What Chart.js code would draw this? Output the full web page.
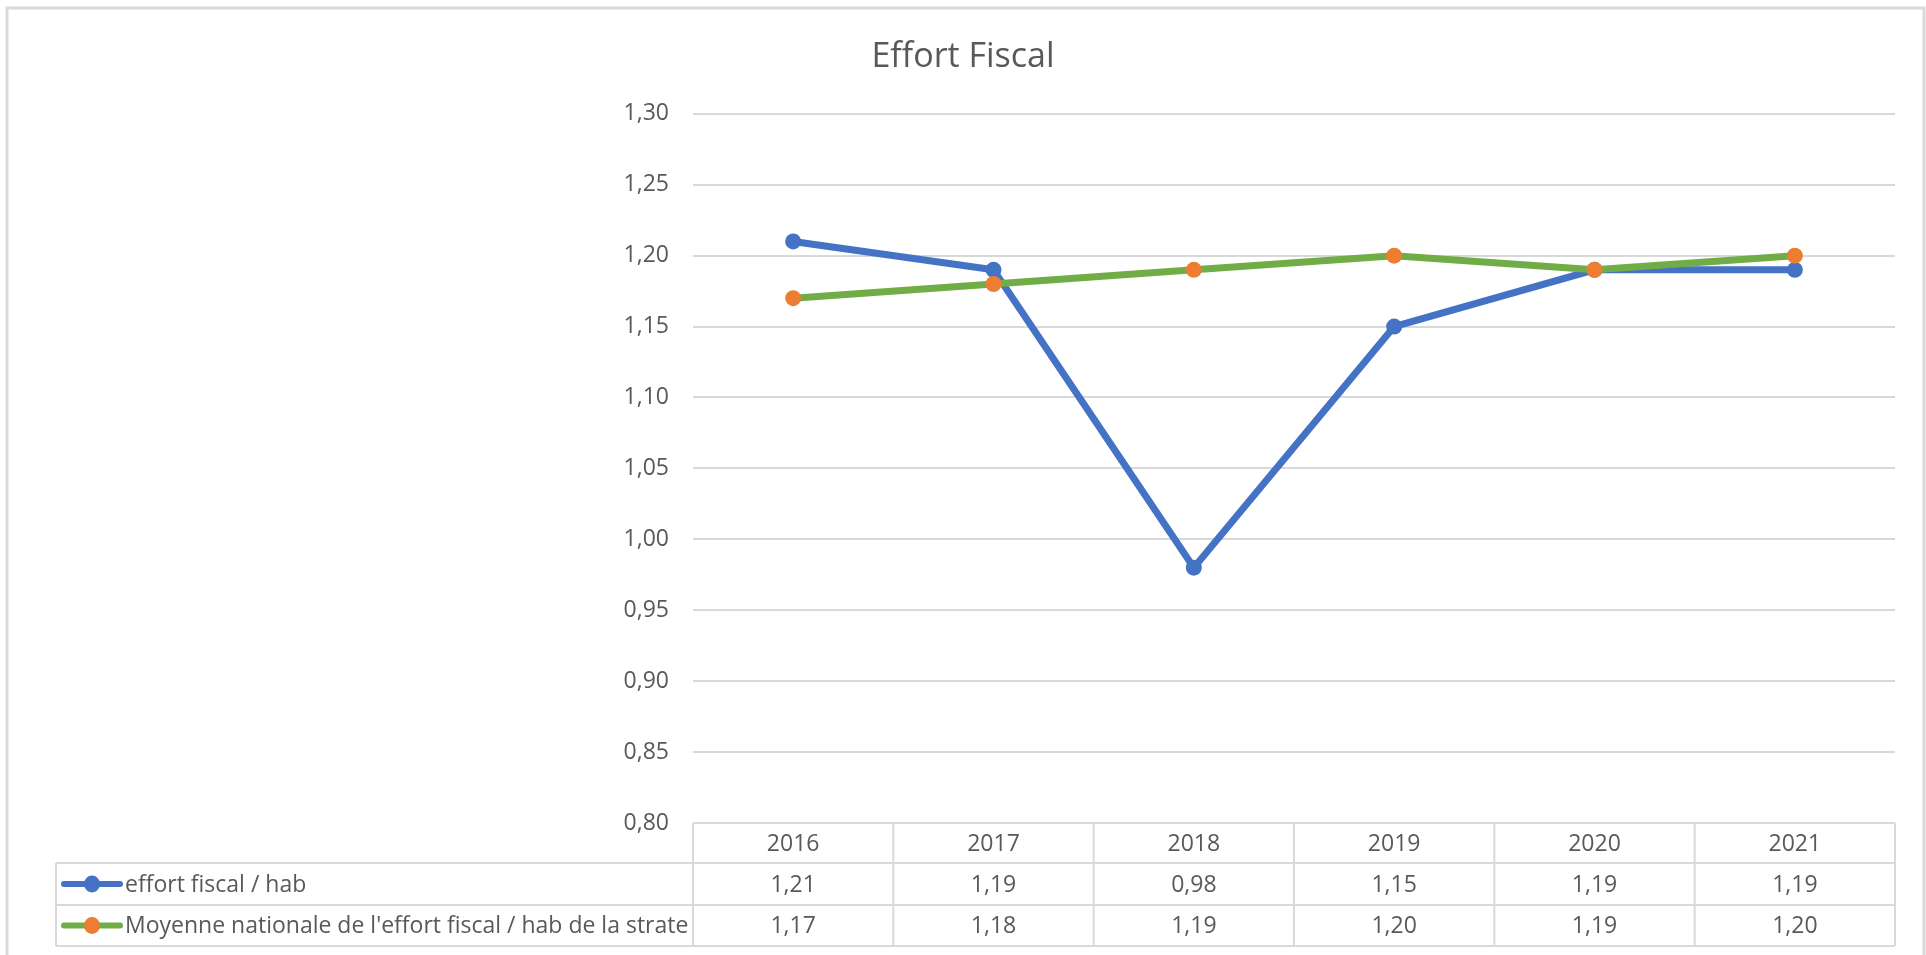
<!DOCTYPE html>
<html>
<head>
<meta charset="utf-8">
<script src="https://cdn.jsdelivr.net/npm/chart.js@4/dist/chart.umd.min.js"></script>
<style>
  html, body { margin: 0; padding: 0; background: #fff; }
  #wrap { width: 1926px; height: 955px; position: relative; }
</style>
</head>
<body>
<div id="wrap"><canvas id="chart"></canvas></div>
<script>
// Data
const years = ["2016", "2017", "2018", "2019", "2020", "2021"];
const effortFiscal = [1.21, 1.19, 0.98, 1.15, 1.19, 1.19];
const moyenneStrate = [1.17, 1.18, 1.19, 1.20, 1.19, 1.20];
const seriesNames = ["effort fiscal / hab", "Moyenne nationale de l'effort fiscal / hab de la strate"];

const FONT = "'Open Sans', sans-serif";
const TEXT = "#595959";
const GRID = "#D9D9D9";
const BLUE = "#4472C4";
const GREEN = "#70AD47";
const ORANGE = "#ED7D31";

const fmt = v => v.toFixed(2).replace(".", ",");

// Frame around the whole chart
const framePlugin = {
  id: "frame",
  beforeDraw(chart) {
    const ctx = chart.ctx;
    ctx.save();
    ctx.fillStyle = "#fff";
    ctx.fillRect(0, 0, chart.width, chart.height);
    ctx.strokeStyle = GRID;
    ctx.lineWidth = 3;
    ctx.beginPath();
    ctx.moveTo(7, chart.height);
    ctx.lineTo(7, 8);
    ctx.lineTo(1924, 8);
    ctx.lineTo(1924, chart.height);
    ctx.stroke();
    ctx.restore();
  }
};

// Data table under the plot, drawn from the same arrays and the x scale
const tablePlugin = {
  id: "dataTable",
  afterDraw(chart) {
    const ctx = chart.ctx;
    const x = chart.scales.x;
    const area = chart.chartArea;
    const rowTops = [area.bottom, area.bottom + 40, area.bottom + 82, area.bottom + 123];
    const tableLeft = 56;
    const half = (x.getPixelForValue(1) - x.getPixelForValue(0)) / 2;

    ctx.save();
    ctx.strokeStyle = GRID;
    ctx.lineWidth = 2;
    ctx.beginPath();
    // horizontal rules
    ctx.moveTo(area.left, rowTops[0]); ctx.lineTo(area.right, rowTops[0]);
    for (let r = 1; r < rowTops.length; r++) {
      ctx.moveTo(tableLeft, rowTops[r]); ctx.lineTo(area.right, rowTops[r]);
    }
    // vertical rules
    ctx.moveTo(tableLeft, rowTops[1]); ctx.lineTo(tableLeft, rowTops[3]);
    ctx.moveTo(area.left, rowTops[0]); ctx.lineTo(area.left, rowTops[3]);
    years.forEach((y, i) => {
      const xr = x.getPixelForValue(i) + half;
      ctx.moveTo(xr, rowTops[0]); ctx.lineTo(xr, rowTops[3]);
    });
    ctx.stroke();

    ctx.fillStyle = TEXT;
    ctx.font = "23px " + FONT;
    ctx.textBaseline = "middle";
    ctx.textAlign = "center";
    const rows = [effortFiscal, moyenneStrate];
    years.forEach((y, i) => {
      const cx = x.getPixelForValue(i);
      ctx.fillText(y, cx, (rowTops[0] + rowTops[1]) / 2 + 1);
      rows.forEach((vals, r) => {
        ctx.fillText(fmt(vals[i]), cx, (rowTops[r + 1] + rowTops[r + 2]) / 2 + 1);
      });
    });

    // legend keys in the first column
    const keys = [[BLUE, BLUE], [GREEN, ORANGE]];
    ctx.textAlign = "left";
    seriesNames.forEach((name, r) => {
      const cy = (rowTops[r + 1] + rowTops[r + 2]) / 2;
      ctx.strokeStyle = keys[r][0];
      ctx.lineWidth = 6;
      ctx.lineCap = "round";
      ctx.beginPath();
      ctx.moveTo(64, cy); ctx.lineTo(120, cy);
      ctx.stroke();
      ctx.fillStyle = keys[r][1];
      ctx.beginPath();
      ctx.ellipse(92, cy, 8, 8.5, 0, 0, Math.PI * 2);
      ctx.fill();
      ctx.fillStyle = TEXT;
      ctx.fillText(name, 125, cy + 1);
    });
    ctx.restore();
  }
};

const ctx = document.getElementById("chart").getContext("2d");
new Chart(ctx, {
  type: "line",
  data: {
    labels: years,
    datasets: [
      {
        label: seriesNames[0],
        data: effortFiscal,
        borderColor: BLUE,
        backgroundColor: BLUE,
        borderWidth: 7,
        pointRadius: 8,
        pointBorderWidth: 0,
        pointBackgroundColor: BLUE,
        tension: 0,
        order: 2
      },
      {
        label: seriesNames[1],
        data: moyenneStrate,
        borderColor: GREEN,
        backgroundColor: ORANGE,
        borderWidth: 7,
        pointRadius: 8,
        pointBorderWidth: 0,
        pointBackgroundColor: ORANGE,
        tension: 0,
        order: 1
      }
    ]
  },
  options: {
    responsive: true,
    maintainAspectRatio: false,
    animation: false,
    layout: { padding: { left: 31, right: 31, top: 0, bottom: 132 } },
    plugins: {
      legend: { display: false },
      tooltip: { enabled: false },
      title: {
        display: true,
        text: "Effort Fiscal",
        color: TEXT,
        font: { family: FONT, size: 34, weight: "normal" },
        padding: { top: 37, bottom: 36 }
      }
    },
    scales: {
      x: {
        type: "category",
        offset: true,
        display: false
      },
      y: {
        min: 0.8,
        max: 1.3,
        ticks: {
          stepSize: 0.05,
          padding: 24,
          color: TEXT,
          font: { family: FONT, size: 23 },
          callback: v => fmt(v)
        },
        grid: { color: GRID, lineWidth: 2, drawTicks: false },
        border: { display: false },
        afterFit(scale) { scale.width = 662; }
      }
    }
  },
  plugins: [framePlugin, tablePlugin]
});
</script>
</body>
</html>
